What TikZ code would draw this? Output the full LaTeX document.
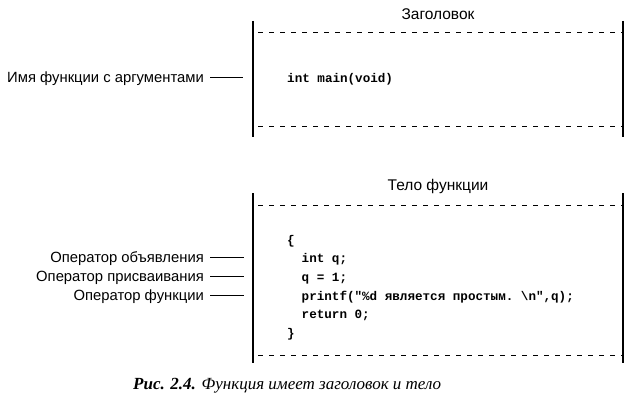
\documentclass[tikz,border=0pt]{standalone}
\usepackage{fontspec}
\setmainfont{Liberation Serif}
\setsansfont{Liberation Sans}
\setmonofont{Liberation Mono}
\usetikzlibrary{positioning}
\tikzset{
  lbl/.style={font=\sffamily\fontsize{14.8}{16}\selectfont, inner sep=0pt,
    text height=12.5pt, text depth=2.5pt, anchor=base east},
  ttl/.style={font=\sffamily\fontsize{15.5}{17}\selectfont, inner sep=0pt, anchor=base},
  codeline/.style={font=\ttfamily\bfseries\fontsize{12.6}{16}\selectfont, inner sep=0pt, anchor=base west},
  capt/.style={font=\fontsize{17}{20}\selectfont, inner sep=0pt, anchor=base west},
  edge/.style={line width=1.3pt},
  sep/.style={line width=0.9pt, dash pattern=on 5pt off 6pt},
  leader/.style={line width=0.9pt}
}

\begin{document}
\begin{tikzpicture}[x=1pt, y=-1pt]
    \useasboundingbox (0,0) rectangle (627,404);
    % header box
    \coordinate (htl) at (253,21);
    \coordinate (hbl) at (253,137);
    \coordinate (htr) at (623,21);
    \coordinate (hbr) at (623,137);
    \draw[edge] (htl) -- (hbl);
    \draw[edge] (htr) -- (hbr);
    \draw[sep] (258,32) -- (623,32);
    \draw[sep] (258,126) -- (623,126);
    \node[ttl] (htitle) at (438,19.5) {Заголовок};
    \node[codeline] (hcode) at (287,82) {int main(void)};
    \node[lbl] (hname) at (204,82) {Имя функции с аргументами};
    \coordinate (hend) at (243,77);
    \draw[leader] ([xshift=6pt]hname.east) -- (hend);
    % body box
    \coordinate (btl) at (253,193);
    \coordinate (bbl) at (253,363);
    \coordinate (btr) at (623,193);
    \coordinate (bbr) at (623,363);
    \draw[edge] (btl) -- (bbl);
    \draw[edge] (btr) -- (bbr);
    \draw[sep] (258,205.5) -- (623,205.5);
    \draw[sep] (258,355) -- (623,355);
    \node[ttl] (btitle) at (438,190.5) {Тело функции};
    \node[codeline] (copen) at (287,244) {\{};
    \node[codeline] (cdecl) at (301.5,262.7) {int q;};
    \node[codeline] (cassign) at (301.5,281.5) {q = 1;};
    \node[codeline] (cprintf) at (301.5,300.2) {printf("\%d является простым. \textbackslash n",q);};
    \node[codeline] (creturn) at (301.5,318.9) {return 0;};
    \node[codeline] (cclose) at (287,337.6) {\}};
    \node[lbl] (ldecl) at (204,262.7) {Оператор объявления};
    \node[lbl] (lassign) at (204,281.5) {Оператор присваивания};
    \node[lbl] (lfunc) at (204,300.2) {Оператор функции};
    \coordinate (edecl) at (244,257.7);
    \coordinate (eassign) at (244,276.5);
    \coordinate (efunc) at (244,295.2);
    \draw[leader] ([xshift=6pt]ldecl.east) -- (edecl);
    \draw[leader] ([xshift=6pt]lassign.east) -- (eassign);
    \draw[leader] ([xshift=6pt]lfunc.east) -- (efunc);
    % caption
    \node[capt] (caption) at (133,389) {\textbf{\textit{Рис. 2.4.}} \textit{Функция имеет заголовок и тело}};
  \end{tikzpicture}
\end{document}
